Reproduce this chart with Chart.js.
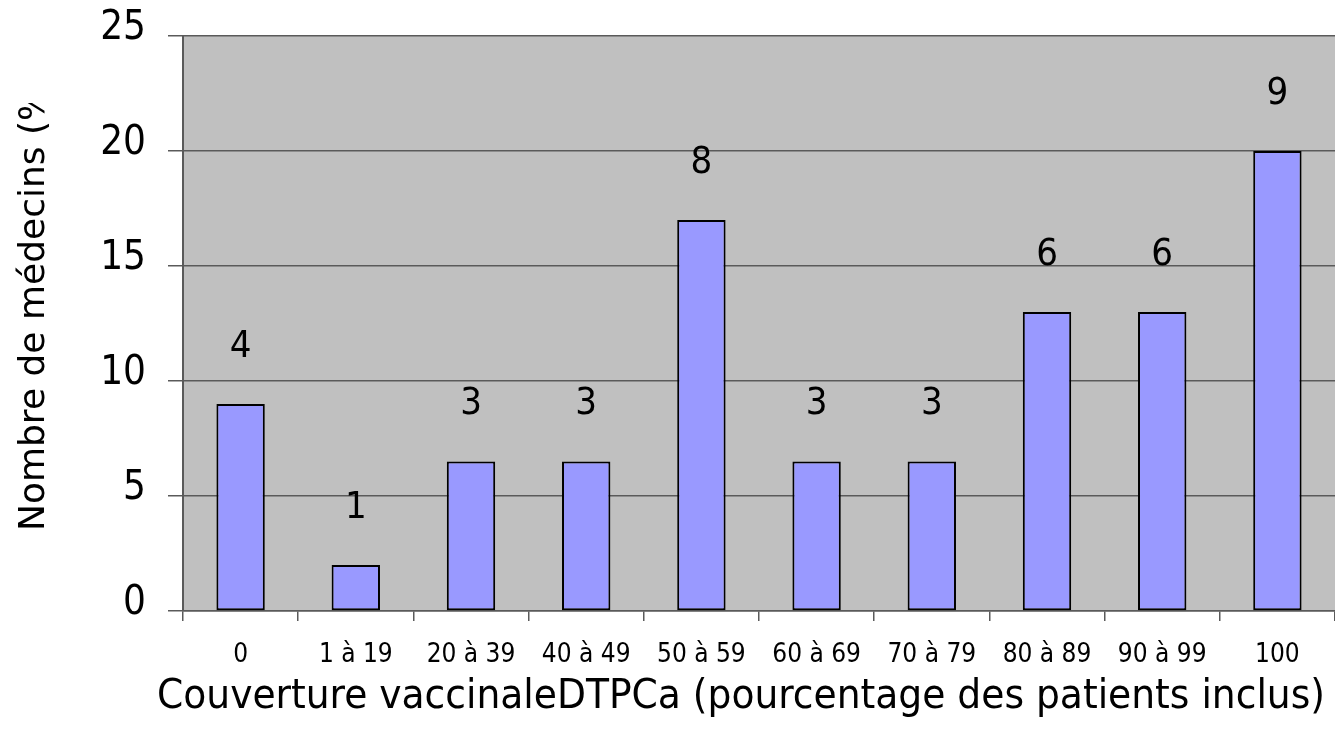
<!DOCTYPE html>
<html>
<head>
<meta charset="utf-8">
<script src="https://cdn.jsdelivr.net/npm/chart.js@4.4.0/dist/chart.umd.min.js"></script>
<style>
  html, body { margin: 0; padding: 0; background: #fff; }
  canvas { display: block; }
</style>
</head>
<body>
<canvas id="chart" width="1335" height="747"></canvas>
<script>
// Couverture vaccinale DTPCa — % of doctors per coverage band, count of doctors above each bar

const categories = ["0", "1 à 19", "20 à 39", "40 à 49", "50 à 59", "60 à 69", "70 à 79", "80 à 89", "90 à 99", "100"];
const percentValues = [9, 2, 6.5, 6.5, 17, 6.5, 6.5, 13, 13, 20];
const doctorCounts = [4, 1, 3, 3, 8, 3, 3, 6, 6, 9];
const yTicks = [0, 5, 10, 15, 20, 25];

const X_TITLE = "Couverture vaccinaleDTPCa (pourcentage des patients inclus)";
const Y_TITLE = "Nombre de médecins (%)";
const FONT = "'DejaVu Sans Condensed', 'DejaVu Sans'";

const plotBg = {
  id: "plotBg",
  beforeDraw(chart) {
    const { ctx, chartArea: a } = chart;
    ctx.save();
    ctx.fillStyle = "#c0c0c0";
    ctx.fillRect(a.left, a.top, a.right - a.left, a.bottom - a.top);
    ctx.restore();
  },
};

const extras = {
  id: "extras",
  afterDatasetsDraw(chart) {
    const { ctx } = chart;
    const meta = chart.getDatasetMeta(0);
    ctx.save();
    ctx.fillStyle = "#000";
    ctx.font = "38px " + FONT;
    ctx.textAlign = "center";
    ctx.textBaseline = "middle";
    meta.data.forEach((bar, i) => {
      ctx.fillText(String(doctorCounts[i]), bar.x, bar.y - 57);
    });
    ctx.restore();
  },
  afterDraw(chart) {
    const { ctx } = chart;
    // x title
    ctx.save();
    ctx.fillStyle = "#000";
    ctx.font = "40px " + FONT;
    ctx.textBaseline = "alphabetic";
    ctx.textAlign = "left";
    const w = ctx.measureText(X_TITLE).width;
    ctx.translate(157, 708);
    ctx.scale(1168 / w, 1);
    ctx.fillText(X_TITLE, 0, 0);
    ctx.restore();

    // y title, clipped at top like the original text box
    ctx.save();
    ctx.beginPath();
    ctx.rect(0, 103, 90, 500);
    ctx.clip();
    ctx.fillStyle = "#000";
    ctx.font = "36px 'DejaVu Sans'";
    ctx.translate(44, 531);
    ctx.rotate(-Math.PI / 2);
    ctx.textAlign = "left";
    ctx.textBaseline = "alphabetic";
    ctx.fillText(Y_TITLE, 0, 0);
    ctx.restore();
  },
};

new Chart(document.getElementById("chart"), {
  type: "bar",
  data: {
    labels: categories,
    datasets: [{
      data: percentValues,
      backgroundColor: "#9999ff",
      borderColor: "#000",
      borderWidth: 2,
      borderSkipped: false,
      barPercentage: 0.42,
      categoryPercentage: 1,
    }],
  },
  options: {
    responsive: false,
    animation: false,
    layout: { padding: { top: 36, right: 0, left: 0, bottom: 0 } },
    plugins: { legend: { display: false }, tooltip: { enabled: false } },
    scales: {
      x: {
        afterFit(scale) { scale.height = 136; scale.paddingLeft = 0; scale.paddingRight = 0; },
        grid: { display: true, drawOnChartArea: false, drawTicks: true, tickLength: 10, color: "#5a5a5a", lineWidth: 1.5 },
        border: { display: true, color: "#5a5a5a", width: 1.5 },
        ticks: { color: "#000", font: { family: FONT, size: 26 }, padding: 19, maxRotation: 0, autoSkip: false },
      },
      y: {
        min: 0,
        max: 25,
        afterFit(scale) { scale.width = 183; scale.paddingTop = 0; scale.paddingBottom = 0; },
        afterBuildTicks(scale) { scale.ticks = yTicks.map((v) => ({ value: v })); },
        grid: { color: "#5a5a5a", lineWidth: 1.5, tickLength: 15 },
        border: { display: true, color: "#5a5a5a", width: 2 },
        ticks: { color: "#000", font: { family: FONT, size: 40 }, padding: 22, labelOffset: -7 },
      },
    },
  },
  plugins: [plotBg, extras],
});
</script>
</body>
</html>
